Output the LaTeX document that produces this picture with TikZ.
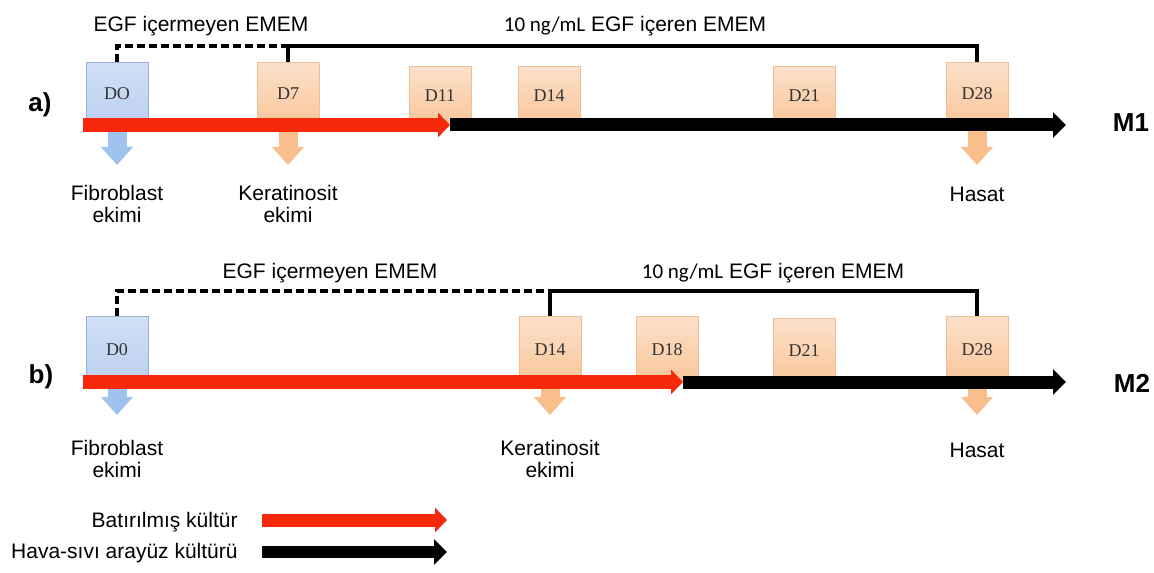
\documentclass[tikz,border=0pt]{standalone}
\usepackage{fontspec}
\setmainfont{Liberation Sans}
\newfontfamily\dayfont{Liberation Serif}
\newfontfamily\dosefont{Carlito}
\usetikzlibrary{arrows.meta,positioning}

\definecolor{immersedred}{RGB}{248,40,10}
\definecolor{blueboxtop}{RGB}{208,223,245}
\definecolor{blueboxbot}{RGB}{188,208,240}
\definecolor{blueboxline}{RGB}{150,178,218}
\definecolor{orboxtop}{RGB}{252,224,202}
\definecolor{orboxbot}{RGB}{249,198,154}
\definecolor{orboxline}{RGB}{238,190,150}
\definecolor{seedblue}{RGB}{160,194,238}
\definecolor{seedorange}{RGB}{248,190,140}

\tikzset{
  daybox/.style={rectangle, draw=orboxline, top color=orboxtop, bottom color=orboxbot,
    minimum width=31pt, minimum height=#1, inner sep=0pt, anchor=south,
    font=\dayfont\fontsize{9}{10}\selectfont, text=black!80},
  bluebox/.style={daybox=#1, draw=blueboxline, top color=blueboxtop, bottom color=blueboxbot},
  mediumlabel/.style={anchor=base, inner sep=0pt, font=\fontsize{10.5}{11}\selectfont},
  steplabel/.style={anchor=north, inner sep=0pt, align=center, font=\fontsize{10.5}{11}\selectfont},
  panellabel/.style={anchor=base, inner sep=0pt, font=\bfseries\fontsize{13}{14}\selectfont},
  nomedium/.style={line width=1.6pt, dash pattern=on 4pt off 2pt},
  egfmedium/.style={line width=1.6pt},
  immersed/.style={immersedred, line width=7pt, -{Triangle[width=12pt,length=6pt]}},
  airlift/.style={black, line width=6.5pt, -{Triangle[width=12.5pt,length=6.5pt]}},
  seed/.style={#1, line width=9.5pt, -{Triangle[width=15.5pt,length=9pt]}},
}

\begin{document}
\begin{tikzpicture}[x=0.5pt,y=-0.5pt]
  \path[fill=white, use as bounding box] (0,0) rectangle (1154,572);

  % a) M1
  \node[bluebox=31pt] (a0) at (117,125) {DO};
  \node[daybox=31pt] (a7) at (288,125) {D7};
  \node[daybox=29pt] (a11) at (440,125) {D11};
  \node[daybox=29pt] (a14) at (549,125) {D14};
  \node[daybox=29pt] (a21) at (804,125) {D21};
  \node[daybox=31pt] (a28) at (977,125) {D28};

  \node[mediumlabel] (a plain) at (201,32) {EGF içermeyen EMEM};
  \node[mediumlabel] (a egf) at (635,32) {{\dosefont 10 ng/mL} EGF içeren EMEM};
  \coordinate (a split) at (288,46);
  \draw[nomedium] (a0.north) |- (a split);
  \draw[egfmedium] (a7.north) -- (a split) -| (a28.north);

  \node[steplabel] (a fib) at (117,185) {Fibroblast\\ekimi};
  \node[steplabel] (a ker) at (288,185) {Keratinosit\\ekimi};
  \node[steplabel] (a hasat) at (977,187) {Hasat};
  \draw[seed=seedblue, shorten >=10pt] (a0.south) -- (a fib.north);
  \draw[seed=seedorange, shorten >=10pt] (a7.south) -- (a ker.north);
  \draw[seed=seedorange, shorten >=11pt] (a28.south) -- (a hasat.north);

  \coordinate (a start) at (83,125);
  \coordinate (a switch) at (450,125);
  \coordinate (a end) at (1066,125);
  \draw[airlift] (a switch) -- (a end);
  \draw[immersed] (a start) -- (a switch);

  \node[panellabel] (a name) at (40,112) {a)};
  \node[panellabel] (m1) at (1131,132) {M1};

  % b) M2
  \node[bluebox=32.5pt] (b0) at (117,382) {D0};
  \node[daybox=32.5pt] (b14) at (550,382) {D14};
  \node[daybox=32.5pt] (b18) at (667,382) {D18};
  \node[daybox=31.5pt] (b21) at (804,382) {D21};
  \node[daybox=32.5pt] (b28) at (977,382) {D28};

  \node[mediumlabel] (b plain) at (330,278) {EGF içermeyen EMEM};
  \node[mediumlabel] (b egf) at (773,278) {{\dosefont 10 ng/mL} EGF içeren EMEM};
  \coordinate (b split) at (550,291);
  \draw[nomedium] (b0.north) |- (b split);
  \draw[egfmedium] (b14.north) -- (b split) -| (b28.north);

  \node[steplabel] (b fib) at (117,440) {Fibroblast\\ekimi};
  \node[steplabel] (b ker) at (550,440) {Keratinosit\\ekimi};
  \node[steplabel] (b hasat) at (977,443) {Hasat};
  \draw[seed=seedblue, shorten >=12.5pt] (b0.south) -- (b fib.north);
  \draw[seed=seedorange, shorten >=12.5pt] (b14.south) -- (b ker.north);
  \draw[seed=seedorange, shorten >=14pt] (b28.south) -- (b hasat.north);

  \coordinate (b start) at (83,382);
  \coordinate (b switch) at (683,382);
  \coordinate (b end) at (1066,382);
  \draw[airlift] (b switch) -- (b end);
  \draw[immersed] (b start) -- (b switch);

  \node[panellabel] (b name) at (41,383) {b)};
  \node[panellabel] (m2) at (1132,392) {M2};

  % legend
  \node[mediumlabel, anchor=base east] (legend immersed) at (238,527) {Batırılmış kültür};
  \node[mediumlabel, anchor=base east] (legend airlift) at (238,558) {Hava-sıvı arayüz kültürü};
  \coordinate (li start) at (262,520);
  \coordinate (li end) at (447,520);
  \coordinate (la start) at (262,552);
  \coordinate (la end) at (447,552);
  \draw[immersed, line width=6.5pt] (li start) -- (li end);
  \draw[airlift, line width=6pt] (la start) -- (la end);
\end{tikzpicture}
\end{document}
